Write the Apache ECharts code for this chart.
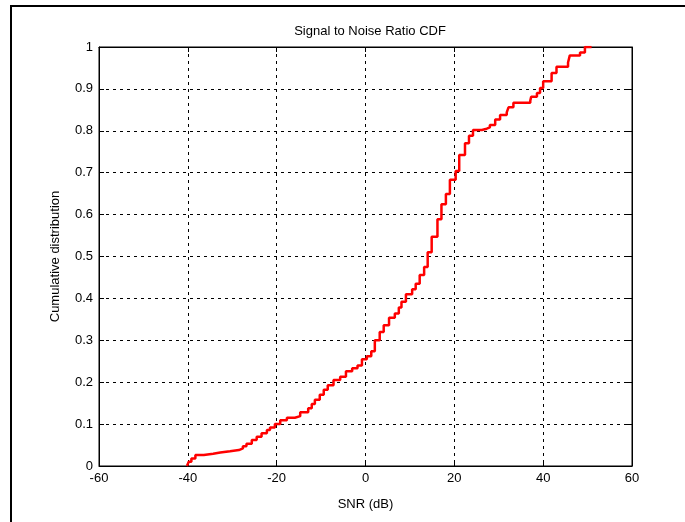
<!DOCTYPE html>
<html>
<head>
<meta charset="utf-8">
<script src="https://cdn.jsdelivr.net/npm/echarts@6/dist/echarts.min.js"></script>
<style>
  html, body { margin: 0; padding: 0; background: #fff; }
  #chart { width: 685px; height: 522px; }
</style>
</head>
<body>
<div id="chart"></div>
<script>
// step positions of the empirical CDF (dB) and the level reached at each
var snr = [-40.2, -39.8, -39.2, -38.3, -36.4, -34.3, -32.7, -30.5, -28.5, -27.6,
    -26.8, -25.6, -24.5, -23.4, -22.2, -21.5, -20.4, -19.2, -17.7, -15.9,
    -14.7, -12.9, -12.1, -11.4, -10.3, -9.4, -8.5, -7.2, -5.7, -4.4,
    -3.0, -1.8, -0.8, 0.3, 1.3, 2.1, 3.2, 4.1, 5.3, 6.6,
    7.5, 8.1, 9.1, 10.5, 11.3, 12.2, 13.2, 14.0, 14.9, 16.2,
    17.1, 18.1, 19.0, 20.3, 21.1, 22.4, 23.3, 24.2, 26.2, 27.3,
    28.0, 29.2, 30.3, 31.8, 32.2, 33.3, 37.1, 37.3, 38.6, 39.3,
    40.0, 41.9, 43.0, 45.6, 46.0, 48.3, 49.4, 50.9];
var cdf = [0, 0.01, 0.018, 0.026, 0.029, 0.032, 0.035, 0.038, 0.042, 0.047,
    0.053, 0.062, 0.07, 0.078, 0.086, 0.092, 0.1, 0.109, 0.115, 0.119,
    0.128, 0.138, 0.148, 0.158, 0.17, 0.182, 0.193, 0.205, 0.213, 0.226,
    0.233, 0.24, 0.255, 0.262, 0.274, 0.3, 0.32, 0.336, 0.354, 0.364,
    0.378, 0.392, 0.41, 0.422, 0.435, 0.456, 0.475, 0.51, 0.547, 0.589,
    0.625, 0.649, 0.683, 0.704, 0.742, 0.77, 0.788, 0.802, 0.805, 0.808,
    0.814, 0.827, 0.838, 0.844, 0.856, 0.867, 0.872, 0.881, 0.89, 0.902,
    0.918, 0.938, 0.953, 0.963, 0.98, 0.987, 1.0, 1.0];

var xTicks = { min: -60, max: 60, step: 20 };
var yTicks = { min: 0, max: 1, step: 0.1 };

var font = 'Liberation Sans';
var gridLine = { show: true, lineStyle: { color: '#000', type: [3, 4], width: 1 } };

var pts = [];
for (var i = 0; i < snr.length; i++) pts.push([snr[i], cdf[i]]);

var myChart = echarts.init(document.getElementById('chart'), null, { renderer: 'canvas' });
var option = {
    animation: false,
    backgroundColor: '#fff',
    title: {
        text: 'Signal to Noise Ratio CDF',
        left: 365,
        top: 20,
        textAlign: 'center',
        textStyle: { fontFamily: font, fontSize: 13, fontWeight: 'normal', color: '#000' }
    },
    grid: {
        left: 99, right: 53, top: 47, bottom: 56,
        show: true, borderColor: '#000', borderWidth: 1, backgroundColor: '#fff'
    },
    xAxis: [{
        type: 'value',
        min: xTicks.min, max: xTicks.max, interval: xTicks.step,
        name: 'SNR (dB)',
        nameLocation: 'middle',
        nameGap: 32,
        nameTextStyle: { fontFamily: font, fontSize: 13, color: '#000' },
        axisLine: { show: true, onZero: false, lineStyle: { color: '#000' } },
        axisTick: { show: true, inside: true, length: 5, lineStyle: { color: '#000' } },
        axisLabel: { fontFamily: font, fontSize: 13, color: '#000', margin: 6 },
        splitLine: gridLine
    }, {
        type: 'value', position: 'top',
        min: xTicks.min, max: xTicks.max, interval: xTicks.step,
        axisLine: { show: true, onZero: false, lineStyle: { color: '#000' } },
        axisTick: { show: true, inside: true, length: 5, lineStyle: { color: '#000' } },
        axisLabel: { show: false },
        splitLine: { show: false }
    }],
    yAxis: [{
        type: 'value',
        min: yTicks.min, max: yTicks.max, interval: yTicks.step,
        name: 'Cumulative distribution',
        nameLocation: 'middle',
        nameGap: 37,
        nameTextStyle: { fontFamily: font, fontSize: 13, color: '#000' },
        axisLine: { show: true, onZero: false, lineStyle: { color: '#000' } },
        axisTick: { show: true, inside: true, length: 5, lineStyle: { color: '#000' } },
        axisLabel: { fontFamily: font, fontSize: 13, color: '#000', margin: 6 },
        splitLine: gridLine
    }, {
        type: 'value', position: 'right',
        min: yTicks.min, max: yTicks.max, interval: yTicks.step,
        axisLine: { show: true, onZero: false, lineStyle: { color: '#000' } },
        axisTick: { show: true, inside: true, length: 5, lineStyle: { color: '#000' } },
        axisLabel: { show: false },
        splitLine: { show: false }
    }],
    graphic: [{
        type: 'rect',
        shape: { x: 11, y: 6, width: 700, height: 600 },
        style: { fill: 'none', stroke: '#000', lineWidth: 2 },
        silent: true
    }],
    series: [{
        type: 'line',
        data: pts,
        step: 'end',
        showSymbol: false,
        lineStyle: { color: '#ff0000', width: 2.5 },
        itemStyle: { color: '#ff0000' }
    }]
};
myChart.setOption(option);
</script>
</body>
</html>
